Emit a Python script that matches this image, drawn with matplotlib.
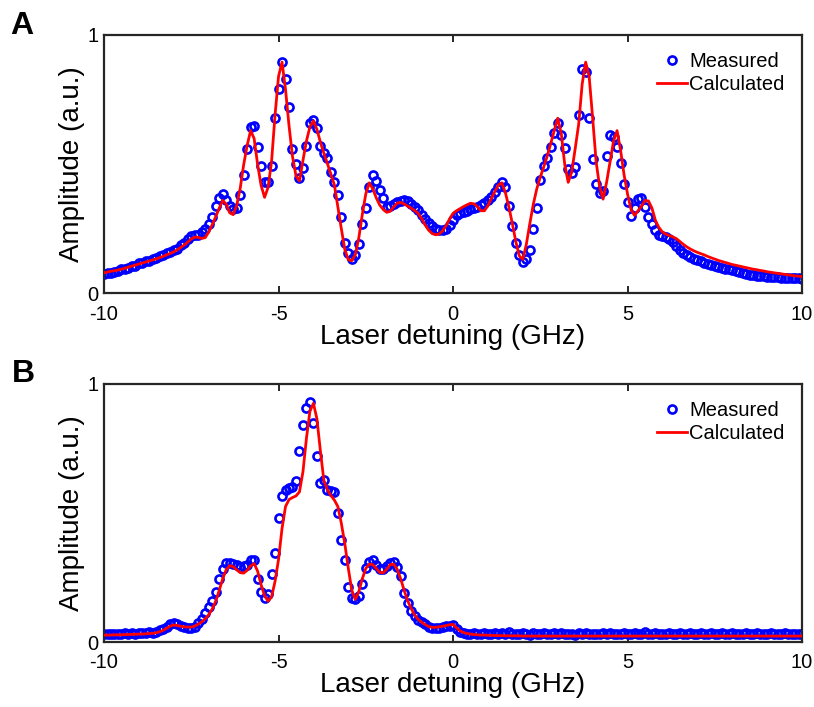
import numpy as np
import matplotlib
matplotlib.use("Agg")
import matplotlib.pyplot as plt

plt.rcParams["font.family"] = ["Liberation Sans", "DejaVu Sans"]
plt.rcParams["axes.unicode_minus"] = False

# Laser detuning sampling grid (GHz), 0.1 GHz steps
detuning_ghz = np.linspace(-10, 10, 201)

# Panel A: measured amplitude
measured_a = [
    0.076, 0.080, 0.079, 0.085, 0.087, 0.093, 0.096, 0.099, 0.106, 0.108,
    0.116, 0.119, 0.125, 0.127, 0.135, 0.137, 0.145, 0.148, 0.156, 0.159,
    0.167, 0.174, 0.188, 0.195, 0.212, 0.221, 0.227, 0.228, 0.236, 0.248,
    0.270, 0.295, 0.338, 0.368, 0.384, 0.360, 0.338, 0.328, 0.332, 0.380,
    0.460, 0.560, 0.645, 0.648, 0.565, 0.495, 0.432, 0.432, 0.495, 0.680,
    0.790, 0.897, 0.830, 0.720, 0.560, 0.500, 0.448, 0.485, 0.570, 0.660,
    0.673, 0.640, 0.570, 0.545, 0.525, 0.470, 0.430, 0.380, 0.295, 0.195,
    0.155, 0.135, 0.150, 0.190, 0.270, 0.330, 0.410, 0.458, 0.435, 0.400,
    0.370, 0.335, 0.340, 0.348, 0.353, 0.357, 0.362, 0.358, 0.348, 0.335,
    0.322, 0.305, 0.288, 0.272, 0.260, 0.250, 0.246, 0.244, 0.250, 0.265,
    0.285, 0.305, 0.312, 0.316, 0.320, 0.325, 0.330, 0.335, 0.342, 0.350,
    0.362, 0.375, 0.392, 0.412, 0.430, 0.410, 0.340, 0.260, 0.195, 0.150,
    0.122, 0.135, 0.170, 0.250, 0.330, 0.440, 0.495, 0.525, 0.565, 0.620,
    0.660, 0.612, 0.564, 0.480, 0.468, 0.490, 0.690, 0.870, 0.855, 0.680,
    0.520, 0.425, 0.390, 0.395, 0.530, 0.615, 0.605, 0.565, 0.505, 0.425,
    0.355, 0.300, 0.330, 0.365, 0.368, 0.335, 0.295, 0.270, 0.246, 0.226,
    0.222, 0.218, 0.210, 0.199, 0.182, 0.167, 0.158, 0.150, 0.141, 0.134,
    0.128, 0.124, 0.119, 0.114, 0.110, 0.107, 0.104, 0.100, 0.096, 0.094,
    0.090, 0.087, 0.084, 0.080, 0.077, 0.073, 0.070, 0.068, 0.067, 0.066,
    0.065, 0.064, 0.063, 0.062, 0.061, 0.060, 0.060, 0.059, 0.058, 0.058,
    0.057,
]

# Panel A: calculated amplitude
calculated_a = [
    0.080, 0.083, 0.086, 0.088, 0.091, 0.094, 0.098, 0.102, 0.106, 0.110,
    0.114, 0.118, 0.122, 0.126, 0.130, 0.134, 0.139, 0.144, 0.150, 0.155,
    0.161, 0.169, 0.178, 0.188, 0.199, 0.211, 0.218, 0.217, 0.213, 0.216,
    0.238, 0.266, 0.297, 0.330, 0.360, 0.346, 0.312, 0.305, 0.340, 0.405,
    0.497, 0.572, 0.630, 0.600, 0.500, 0.418, 0.372, 0.410, 0.510, 0.690,
    0.840, 0.895, 0.790, 0.650, 0.530, 0.455, 0.435, 0.515, 0.590, 0.645,
    0.668, 0.635, 0.585, 0.542, 0.503, 0.462, 0.420, 0.335, 0.250, 0.170,
    0.130, 0.127, 0.150, 0.215, 0.305, 0.385, 0.428, 0.405, 0.370, 0.342,
    0.325, 0.314, 0.318, 0.335, 0.350, 0.352, 0.346, 0.338, 0.330, 0.321,
    0.310, 0.290, 0.265, 0.245, 0.232, 0.227, 0.230, 0.242, 0.262, 0.288,
    0.310, 0.320, 0.328, 0.336, 0.343, 0.349, 0.347, 0.335, 0.320, 0.320,
    0.340, 0.368, 0.395, 0.420, 0.428, 0.390, 0.335, 0.270, 0.200, 0.145,
    0.132, 0.190, 0.270, 0.345, 0.405, 0.450, 0.490, 0.532, 0.580, 0.630,
    0.678, 0.620, 0.500, 0.430, 0.470, 0.560, 0.655, 0.810, 0.895, 0.840,
    0.680, 0.510, 0.413, 0.365, 0.430, 0.510, 0.590, 0.630, 0.555, 0.460,
    0.385, 0.325, 0.302, 0.320, 0.338, 0.360, 0.358, 0.330, 0.282, 0.255,
    0.238, 0.229, 0.224, 0.219, 0.212, 0.201, 0.190, 0.180, 0.172, 0.165,
    0.159, 0.154, 0.149, 0.143, 0.138, 0.133, 0.128, 0.124, 0.120, 0.116,
    0.112, 0.109, 0.106, 0.103, 0.100, 0.097, 0.094, 0.092, 0.089, 0.087,
    0.084, 0.082, 0.080, 0.078, 0.076, 0.074, 0.072, 0.070, 0.068, 0.067,
    0.065,
]

# Panel B: measured amplitude
measured_b = [
    0.030, 0.031, 0.030, 0.032, 0.031, 0.033, 0.034, 0.032, 0.034, 0.033,
    0.035, 0.034, 0.036, 0.037, 0.036, 0.040, 0.045, 0.052, 0.060, 0.068,
    0.072, 0.068, 0.062, 0.057, 0.054, 0.053, 0.060, 0.072, 0.088, 0.112,
    0.135, 0.160, 0.195, 0.245, 0.282, 0.305, 0.306, 0.304, 0.298, 0.292,
    0.295, 0.300, 0.316, 0.318, 0.245, 0.195, 0.170, 0.185, 0.262, 0.345,
    0.480, 0.565, 0.590, 0.598, 0.602, 0.625, 0.740, 0.840, 0.905, 0.930,
    0.850, 0.720, 0.615, 0.628, 0.589, 0.586, 0.580, 0.500, 0.395, 0.318,
    0.215, 0.170, 0.165, 0.180, 0.225, 0.285, 0.310, 0.318, 0.300, 0.282,
    0.282, 0.295, 0.306, 0.310, 0.290, 0.255, 0.190, 0.150, 0.122, 0.100,
    0.085, 0.077, 0.068, 0.060, 0.055, 0.053, 0.055, 0.058, 0.062, 0.064,
    0.066, 0.050, 0.040, 0.035, 0.033, 0.031, 0.034, 0.030, 0.032, 0.035,
    0.031, 0.033, 0.036, 0.030, 0.034, 0.032, 0.038, 0.031, 0.033, 0.030,
    0.034, 0.032, 0.029, 0.035, 0.031, 0.033, 0.036, 0.030, 0.032, 0.034,
    0.031, 0.035, 0.030, 0.033, 0.032, 0.029, 0.034, 0.031, 0.036, 0.032,
    0.030, 0.033, 0.031, 0.035, 0.032, 0.034, 0.030, 0.033, 0.031, 0.036,
    0.032, 0.030, 0.034, 0.031, 0.033, 0.037, 0.031, 0.032, 0.035, 0.030,
    0.033, 0.031, 0.034, 0.032, 0.030, 0.036, 0.033, 0.031, 0.034, 0.032,
    0.031, 0.035, 0.032, 0.030, 0.034, 0.031, 0.033, 0.036, 0.031, 0.032,
    0.034, 0.030, 0.033, 0.031, 0.035, 0.032, 0.030, 0.034, 0.031, 0.033,
    0.032, 0.035, 0.031, 0.033, 0.030, 0.034, 0.032, 0.031, 0.033, 0.032,
    0.031,
]

# Panel B: calculated amplitude
calculated_b = [
    0.027, 0.027, 0.027, 0.028, 0.028, 0.028, 0.029, 0.029, 0.030, 0.030,
    0.031, 0.031, 0.032, 0.033, 0.034, 0.036, 0.040, 0.046, 0.054, 0.062,
    0.066, 0.064, 0.061, 0.059, 0.058, 0.058, 0.062, 0.069, 0.078, 0.090,
    0.106, 0.128, 0.158, 0.200, 0.245, 0.280, 0.296, 0.292, 0.280, 0.269,
    0.267, 0.278, 0.295, 0.304, 0.275, 0.222, 0.180, 0.158, 0.175, 0.235,
    0.320, 0.440, 0.525, 0.552, 0.560, 0.566, 0.582, 0.660, 0.790, 0.895,
    0.925, 0.865, 0.740, 0.625, 0.590, 0.568, 0.550, 0.525, 0.460, 0.380,
    0.285, 0.200, 0.165, 0.195, 0.245, 0.285, 0.302, 0.300, 0.285, 0.270,
    0.268, 0.282, 0.300, 0.302, 0.282, 0.245, 0.200, 0.160, 0.130, 0.105,
    0.088, 0.077, 0.068, 0.060, 0.057, 0.057, 0.059, 0.061, 0.064, 0.067,
    0.068, 0.055, 0.043, 0.037, 0.033, 0.031, 0.029, 0.028, 0.027, 0.027,
    0.026, 0.026, 0.025, 0.025, 0.025, 0.024, 0.024, 0.024, 0.024, 0.024,
    0.023, 0.023, 0.023, 0.023, 0.023, 0.023, 0.023, 0.023, 0.023, 0.023,
    0.023, 0.023, 0.023, 0.023, 0.023, 0.023, 0.023, 0.023, 0.023, 0.023,
    0.023, 0.023, 0.023, 0.023, 0.023, 0.023, 0.023, 0.023, 0.023, 0.023,
    0.023, 0.023, 0.023, 0.023, 0.023, 0.023, 0.023, 0.023, 0.023, 0.023,
    0.023, 0.023, 0.023, 0.023, 0.023, 0.023, 0.023, 0.023, 0.023, 0.023,
    0.023, 0.023, 0.023, 0.023, 0.023, 0.023, 0.023, 0.023, 0.023, 0.023,
    0.023, 0.023, 0.023, 0.023, 0.023, 0.023, 0.023, 0.023, 0.023, 0.023,
    0.023, 0.023, 0.023, 0.023, 0.023, 0.023, 0.023, 0.023, 0.023, 0.023,
    0.023,
]

x_ticks = [-10, -5, 0, 5, 10]
x_tick_labels = ["-10", "-5", "0", "5", "10"]
y_ticks = [0, 1]
y_tick_labels = ["0", "1"]
panel_letters = ["A", "B"]
series_labels = ["Measured", "Calculated"]
x_label = "Laser detuning (GHz)"
y_label = "Amplitude (a.u.)"

MEASURED_COLOR = "#0000FF"
CALC_COLOR = "#FF0000"
SPINE_COLOR = "#262626"

fig = plt.figure(figsize=(8.14, 7.07), dpi=100)
ax_a = fig.add_axes([0.1278, 0.5849, 0.8575, 0.3656])
ax_b = fig.add_axes([0.1278, 0.0919, 0.8575, 0.3650])

panels = [
    (ax_a, measured_a, calculated_a),
    (ax_b, measured_b, calculated_b),
]

for ax, meas, calc in panels:
    ax.plot(detuning_ghz, meas, linestyle="none", marker="o", markersize=5.8,
            markerfacecolor="none", markeredgecolor=MEASURED_COLOR,
            markeredgewidth=1.9, label=series_labels[0], zorder=2)
    ax.plot(detuning_ghz, calc, color=CALC_COLOR, linewidth=2.0,
            label=series_labels[1], zorder=3)
    ax.set_xlim(-10, 10)
    ax.set_ylim(0, 1)
    ax.set_xticks(x_ticks)
    ax.set_xticklabels(x_tick_labels)
    ax.set_yticks(y_ticks)
    ax.set_yticklabels(y_tick_labels)
    ax.tick_params(axis="both", direction="in", length=5, width=1.4,
                   color=SPINE_COLOR, labelsize=14.5,
                   top=True, right=False)
    ax.tick_params(axis="x", pad=8)
    ax.tick_params(axis="y", pad=4)
    for s in ax.spines.values():
        s.set_color(SPINE_COLOR)
        s.set_linewidth(1.6)
    ax.set_xlabel(x_label, fontsize=20, labelpad=0)
    ax.set_ylabel(y_label, fontsize=20, labelpad=2)
    ax.legend(loc="upper right", bbox_to_anchor=(0.995, 0.99), frameon=False,
              fontsize=14.5, handlelength=1.5, handletextpad=0.1,
              labelspacing=0.2, borderpad=0.2, numpoints=1)

fig.text(0.012, 0.985, panel_letters[0], fontsize=23, fontweight="bold",
         va="top", ha="left")
fig.text(0.014, 0.492, panel_letters[1], fontsize=23, fontweight="bold",
         va="top", ha="left")

fig.savefig("out.png", dpi=100)
